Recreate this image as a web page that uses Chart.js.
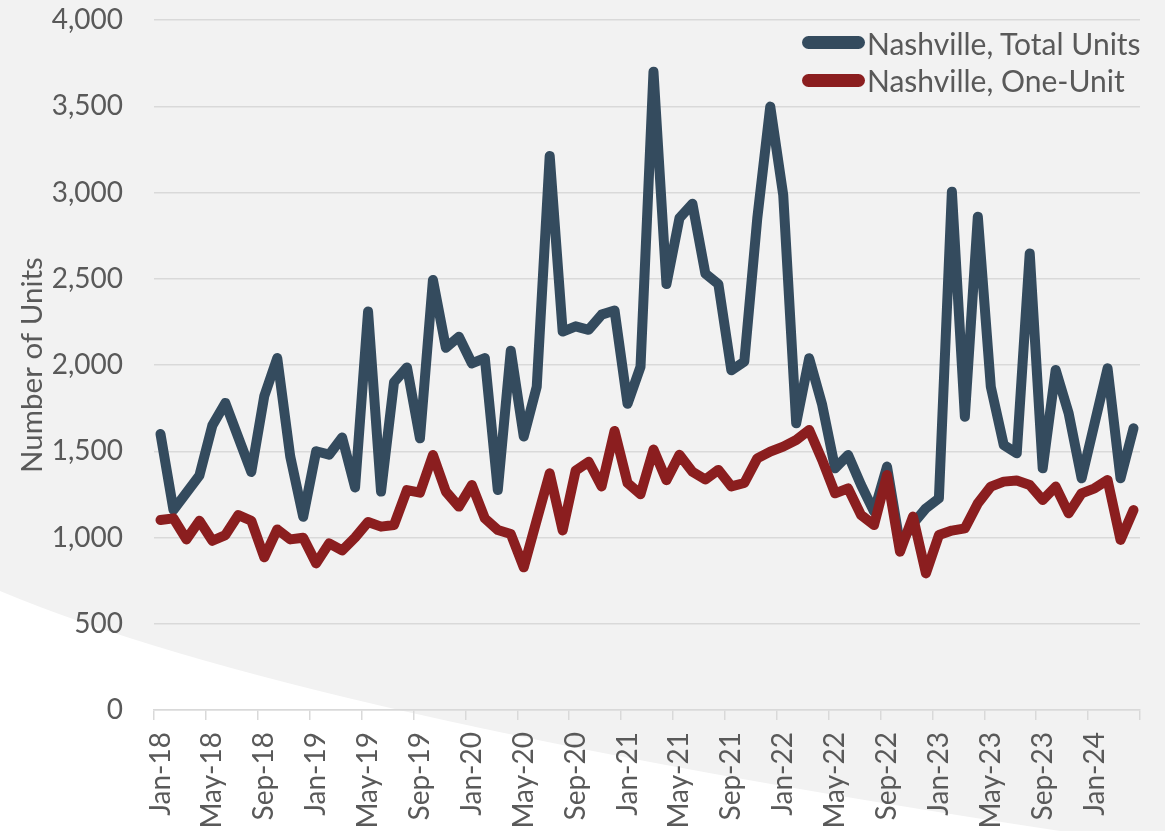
<!DOCTYPE html>
<html>
<head>
<meta charset="utf-8">
<title>Nashville units</title>
<script src="https://cdn.jsdelivr.net/npm/chart.js@4/dist/chart.umd.min.js"></script>
<style>
    html, body { margin: 0; padding: 0; background: #f2f2f2; }
    #wrap { position: relative; width: 1165px; height: 831px; }
    #legend {
        position: absolute; left: 802px; top: 24px;
        font-family: Lato, sans-serif; font-size: 30px; color: #595959;
    }
    .legend-item { display: flex; align-items: center; height: 37.5px; white-space: nowrap; }
    .legend-swatch { width: 63px; height: 13px; border-radius: 7px; margin-right: 2px; }
</style>
</head>
<body>
<div id="wrap">
    <canvas id="unitsChart" width="1165" height="831"></canvas>
    <div id="legend"></div>
</div>
<script>
// Meses (categorías del eje X)
const months = [
    'Jan-18', 'Feb-18', 'Mar-18', 'Apr-18', 'May-18', 'Jun-18', 'Jul-18', 'Aug-18', 'Sep-18', 'Oct-18', 'Nov-18', 'Dec-18',
    'Jan-19', 'Feb-19', 'Mar-19', 'Apr-19', 'May-19', 'Jun-19', 'Jul-19', 'Aug-19', 'Sep-19', 'Oct-19', 'Nov-19', 'Dec-19',
    'Jan-20', 'Feb-20', 'Mar-20', 'Apr-20', 'May-20', 'Jun-20', 'Jul-20', 'Aug-20', 'Sep-20', 'Oct-20', 'Nov-20', 'Dec-20',
    'Jan-21', 'Feb-21', 'Mar-21', 'Apr-21', 'May-21', 'Jun-21', 'Jul-21', 'Aug-21', 'Sep-21', 'Oct-21', 'Nov-21', 'Dec-21',
    'Jan-22', 'Feb-22', 'Mar-22', 'Apr-22', 'May-22', 'Jun-22', 'Jul-22', 'Aug-22', 'Sep-22', 'Oct-22', 'Nov-22', 'Dec-22',
    'Jan-23', 'Feb-23', 'Mar-23', 'Apr-23', 'May-23', 'Jun-23', 'Jul-23', 'Aug-23', 'Sep-23', 'Oct-23', 'Nov-23', 'Dec-23',
    'Jan-24', 'Feb-24', 'Mar-24', 'Apr-24'
];

// Nashville, total de unidades
const totalUnits = [
    1600, 1160, 1260, 1360, 1650, 1780, 1580, 1380, 1820, 2040, 1470, 1120,
    1500, 1480, 1580, 1290, 2310, 1266, 1900, 1986, 1575, 2493, 2100, 2164,
    2010, 2040, 1275, 2083, 1585, 1874, 3212, 2194, 2224, 2204, 2292, 2316,
    1775, 1990, 3700, 2469, 2851, 2935, 2530, 2469, 1969, 2020, 2850, 3498,
    2986, 1662, 2039, 1770, 1401, 1478, 1304, 1150, 1411, 960, 1080, 1169,
    1227, 3005, 1700, 2860, 1874, 1536, 1488, 2647, 1401, 1971, 1720, 1343,
    1662, 1981, 1343, 1633
];

// Nashville, una unidad
const oneUnit = [
    1101, 1111, 989, 1097, 981, 1014, 1130, 1097, 885, 1047, 989, 999,
    850, 966, 925, 1000, 1090, 1063, 1072, 1275, 1260, 1478, 1266, 1179,
    1304, 1111, 1043, 1020, 827, 1101, 1372, 1041, 1388, 1439, 1296, 1618,
    1316, 1251, 1510, 1332, 1479, 1381, 1336, 1392, 1296, 1316, 1459, 1498,
    1527, 1565, 1623, 1449, 1256, 1285, 1130, 1072, 1362, 918, 1121, 792,
    1014, 1040, 1053, 1198, 1295, 1324, 1330, 1304, 1217, 1295, 1140, 1256,
    1285, 1333, 986, 1159
];

const seriesNames = ['Nashville, Total Units', 'Nashville, One-Unit'];
const seriesColors = ['#344b5e', '#8b1e1f'];
const textColor = '#595959';
const gridColor = '#d9d9d9';

// Fondo gris con la franja blanca inferior
const backdrop = {
    id: 'backdrop',
    beforeDraw(chart) {
        const c = chart.ctx;
        c.save();
        c.fillStyle = '#f2f2f2';
        c.fillRect(0, 0, chart.width, chart.height);
        c.fillStyle = '#ffffff';
        c.beginPath();
        c.moveTo(0, 591);
        c.quadraticCurveTo(300, 717, 1080, 834);
        c.lineTo(0, 834);
        c.closePath();
        c.fill();
        c.restore();
    }
};

const ctx = document.getElementById('unitsChart').getContext('2d');
const unitsChart = new Chart(ctx, {
    type: 'line',
    data: {
        labels: months,
        datasets: [{
            label: seriesNames[0],
            data: totalUnits,
            borderColor: seriesColors[0],
            backgroundColor: seriesColors[0],
            order: 2
        }, {
            label: seriesNames[1],
            data: oneUnit,
            borderColor: seriesColors[1],
            backgroundColor: seriesColors[1],
            order: 1
        }]
    },
    options: {
        responsive: false,
        animation: false,
        layout: { padding: { top: 20, right: 25, left: 0, bottom: 0 } },
        elements: {
            point: { radius: 0 },
            line: { tension: 0, borderWidth: 10, borderJoinStyle: 'round', borderCapStyle: 'round', fill: false }
        },
        plugins: {
            legend: { display: false },
            tooltip: { enabled: false }
        },
        scales: {
            x: {
                offset: true,
                grid: {
                    offset: true,
                    drawOnChartArea: false,
                    tickLength: 10,
                    lineWidth: 1.5,
                    color: gridColor,
                    tickColor: c => (c.type !== 'tick' || c.index % 4 === 0) ? gridColor : 'rgba(0,0,0,0)'
                },
                border: { color: gridColor, width: 1.5 },
                ticks: {
                    autoSkip: false,
                    minRotation: 90,
                    maxRotation: 90,
                    padding: 12,
                    color: textColor,
                    font: { family: 'Lato', size: 28 },
                    callback: (value, index) => index % 4 === 0 ? months[index] : ''
                },
                afterFit: scale => {
                    scale.height = 121;
                    scale.paddingLeft = 0;
                    scale.paddingRight = 0;
                }
            },
            y: {
                min: 0,
                max: 4000,
                grid: { color: gridColor, lineWidth: 1.5, drawTicks: false },
                border: { display: false },
                ticks: {
                    stepSize: 500,
                    padding: 31,
                    color: textColor,
                    font: { family: 'Lato', size: 28 },
                    callback: value => value.toLocaleString('en-US')
                },
                title: {
                    display: true,
                    text: 'Number of Units',
                    color: textColor,
                    font: { family: 'Lato', size: 29.5 },
                    padding: { top: 15, bottom: 0 }
                },
                afterFit: scale => {
                    scale.width = 154;
                    scale.paddingTop = 0;
                    scale.paddingBottom = 0;
                }
            }
        }
    },
    plugins: [backdrop]
});

// Leyenda en HTML, dentro del área del gráfico
const legendBox = document.getElementById('legend');
unitsChart.data.datasets.forEach(ds => {
    const item = document.createElement('div');
    item.className = 'legend-item';
    const swatch = document.createElement('span');
    swatch.className = 'legend-swatch';
    swatch.style.background = ds.borderColor;
    const label = document.createElement('span');
    label.textContent = ds.label;
    item.appendChild(swatch);
    item.appendChild(label);
    legendBox.appendChild(item);
});
</script>
</body>
</html>
